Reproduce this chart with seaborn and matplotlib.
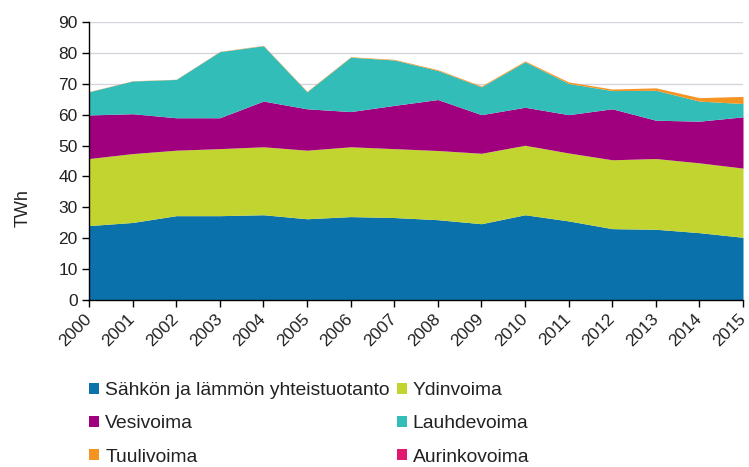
import matplotlib
matplotlib.use("Agg")
import matplotlib.pyplot as plt
from matplotlib.patches import Patch
import seaborn as sns

# Sähkön tuotanto tuotantomuodoittain, TWh
years = list(range(2000, 2016))
chp = [24.1, 25.1, 27.3, 27.3, 27.6, 26.3, 27.0, 26.7, 26.0, 24.7, 27.6, 25.6, 23.1, 22.9, 21.8, 20.3]
nuclear = [21.7, 22.3, 21.2, 21.7, 22.0, 22.2, 22.6, 22.3, 22.4, 22.8, 22.5, 22.0, 22.3, 22.9, 22.6, 22.4]
hydro = [14.1, 12.9, 10.5, 10.0, 14.8, 13.4, 11.4, 14.0, 16.5, 12.5, 12.3, 12.4, 16.5, 12.4, 13.5, 16.6]
condensing = [7.5, 10.6, 12.4, 21.4, 17.9, 5.5, 17.6, 14.7, 9.4, 9.0, 14.7, 10.1, 5.9, 9.7, 6.5, 4.3]
wind = [0.08, 0.07, 0.06, 0.09, 0.12, 0.17, 0.15, 0.19, 0.26, 0.28, 0.29, 0.48, 0.49, 0.77, 1.1, 2.3]
solar = [0.003, 0.003, 0.003, 0.004, 0.004, 0.004, 0.004, 0.004, 0.004, 0.004, 0.005, 0.005, 0.005, 0.006, 0.008, 0.01]

labels = ["Sähkön ja lämmön yhteistuotanto", "Ydinvoima", "Vesivoima",
          "Lauhdevoima", "Tuulivoima", "Aurinkovoima"]
colors = ["#0a71aa", "#c1d42f", "#a0007e", "#33bdb8", "#f59421", "#e0196e"]

sns.set_theme(style="white")
plt.rcParams['font.family'] = ['Liberation Sans', 'DejaVu Sans']

fig = plt.figure(figsize=(7.49, 4.67), dpi=100)
ax = fig.add_axes([0.1188, 0.3576, 0.8732, 0.5953])

ax.stackplot(years, chp, nuclear, hydro, condensing, wind, solar,
             colors=colors, labels=labels, linewidth=0)

ax.set_xlim(2000, 2015)
ax.set_ylim(0, 90)
ax.set_yticks(range(0, 91, 10))
ax.set_xticks(years)
ax.set_xticklabels([str(y) for y in years], rotation=45, ha='right', va='center',
                   rotation_mode='anchor', fontsize=12.5, color='#222222')
ax.tick_params(axis='y', labelsize=12.5, labelcolor='#222222')
ax.yaxis.grid(True, color='#d9d4dc', linewidth=1)
ax.set_axisbelow(True)
ax.tick_params(axis='both', which='major', direction='out', length=5,
               width=1, color='black', bottom=True, left=True, pad=3)
ax.tick_params(axis='x', pad=7)

sns.despine(ax=ax, top=True, right=True)
ax.spines['left'].set_color('black')
ax.spines['bottom'].set_color('black')
ax.spines['left'].set_linewidth(1)
ax.spines['bottom'].set_linewidth(1)

ax.set_ylabel("TWh", fontsize=13, color='#222222')
ax.yaxis.set_label_coords(-0.088, 0.33)

# legend order: rows are filled left to right in the reference
order = [0, 2, 4, 1, 3, 5]
handles = [Patch(facecolor=colors[i], edgecolor='none') for i in order]
fig.legend(handles, [labels[i] for i in order], ncol=2, frameon=False,
           loc='upper left', bbox_to_anchor=(0.109, 0.1985),
           fontsize=13.9, handlelength=0.52, handleheight=0.52, handletextpad=0.3,
           columnspacing=0.37, labelspacing=0.845, borderaxespad=0,
           labelcolor='#222222')

fig.savefig("out.png", dpi=100)
